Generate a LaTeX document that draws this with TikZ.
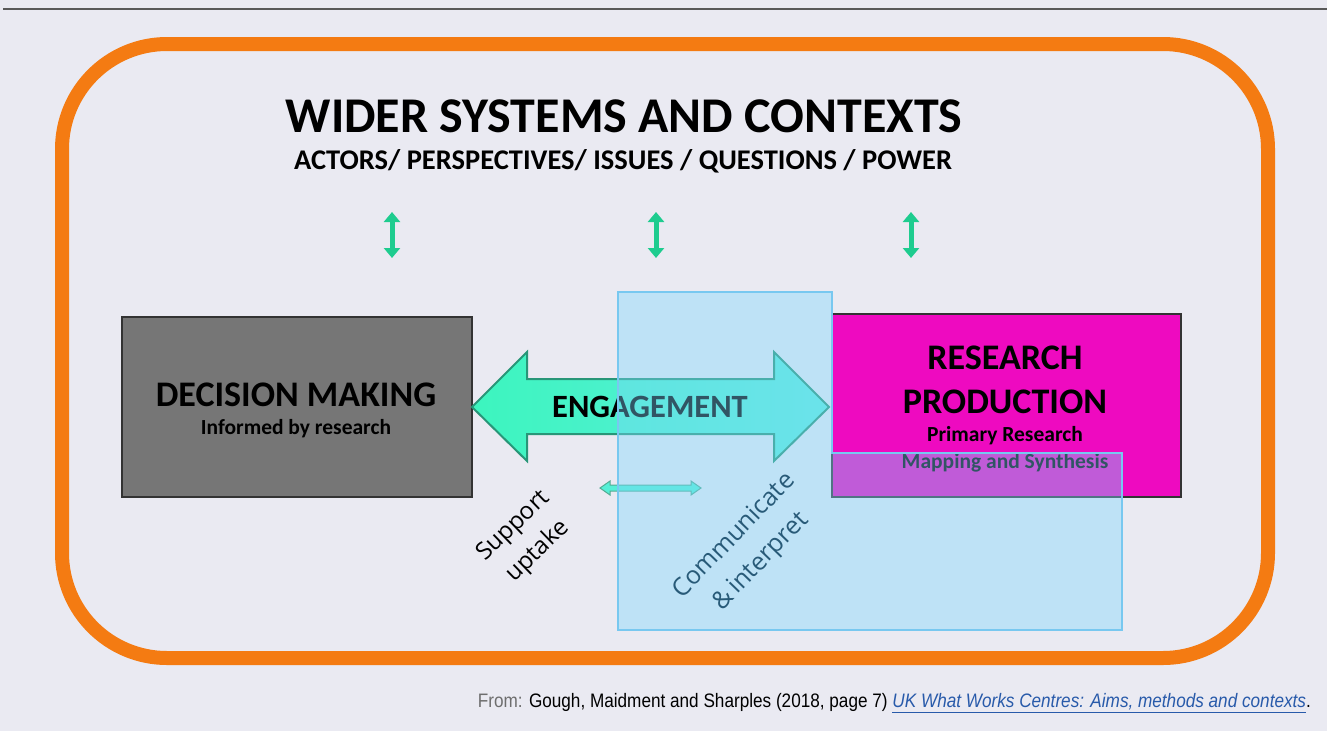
\documentclass[tikz,border=0pt]{standalone}
\usepackage{fontspec}
\setmainfont{Carlito}
\newfontfamily\footfont{Liberation Sans}
\newfontfamily\osfont{Open Sans}
\usetikzlibrary{arrows.meta}
\definecolor{bg}{RGB}{234,234,242}
\definecolor{orng}{RGB}{244,123,18}
\definecolor{vgreen}{RGB}{30,204,143}
\definecolor{dmgrey}{RGB}{118,118,118}
\definecolor{magn}{RGB}{238,10,192}
\definecolor{engL}{RGB}{60,245,190}
\definecolor{engR}{RGB}{96,236,224}
\definecolor{engB}{RGB}{40,150,120}
\definecolor{ovfill}{RGB}{124,214,252}
\definecolor{ovline}{RGB}{120,200,240}
\definecolor{commtxt}{RGB}{40,90,120}
\definecolor{linkblue}{RGB}{40,90,170}
\definecolor{fromgrey}{RGB}{110,110,110}
\tikzset{
  vdarrow/.style={vgreen, line width=5pt, {Triangle[width=16pt,length=10pt]}-{Triangle[width=16pt,length=10pt]}},
  box/.style={draw=black!80, line width=1.5pt, anchor=north west, inner sep=0pt},
  lbl/.style={font=\bfseries, align=center, inner sep=0pt},
}
\begin{document}
\begin{tikzpicture}[x=1pt,y=-1pt]
\useasboundingbox (0,0) rectangle (1327,731);
\fill[bg] (0,0) rectangle (1327,731);
\draw[black!65, line width=1.5pt] (3,9) -- (1327,9);
% orange frame
\draw[orng, line width=14pt, rounded corners=105pt] (62,44) rectangle (1268,658);
% titles
\node[lbl, font=\bfseries\fontsize{50}{56}\selectfont] (title) at (624,116) {WIDER SYSTEMS AND CONTEXTS};
\node[lbl, font=\bfseries\fontsize{28.5}{32}\selectfont] (sub) at (623,161) {ACTORS/ PERSPECTIVES/ ISSUES / QUESTIONS / POWER};
% vertical arrows
\coordinate (a1t) at (392,212); \coordinate (a1b) at (392,258);
\coordinate (a2t) at (656,212); \coordinate (a2b) at (656,258);
\coordinate (a3t) at (911,212); \coordinate (a3b) at (911,258);
\draw[vdarrow] (a1t) -- (a1b);
\draw[vdarrow] (a2t) -- (a2b);
\draw[vdarrow] (a3t) -- (a3b);
% decision making box
\node[box, fill=dmgrey, minimum width=350pt, minimum height=180pt] (dm) at (121,316) {};
\node[lbl, font=\bfseries\fontsize{36}{40}\selectfont] (dmt) at (296,395) {DECISION MAKING};
\node[lbl, font=\bfseries\fontsize{21.5}{24}\selectfont] (dms) at (296,429) {Informed by research};
% research production box
\node[box, fill=magn, minimum width=349pt, minimum height=183pt] (rp) at (831,313) {};
\node[lbl, font=\bfseries\fontsize{36}{40}\selectfont] (rpt1) at (1005,358) {RESEARCH};
\node[lbl, font=\bfseries\fontsize{36}{40}\selectfont] (rpt2) at (1005,402) {PRODUCTION};
\node[lbl, font=\bfseries\fontsize{21.5}{24}\selectfont] (rps1) at (1005,436) {Primary Research};
\node[lbl, font=\bfseries\fontsize{21.5}{24}\selectfont] (rps2) at (1005,463) {Mapping and Synthesis};
% engagement arrow
\shade[left color=engL, right color=engR, draw=engB, line width=2pt, line join=miter]
  (472,407) -- (527,352) -- (527,379) -- (774,379) -- (774,352) -- (829,407)
  -- (774,461) -- (774,434) -- (527,434) -- (527,461) -- cycle;
\node[lbl, font=\bfseries\fontsize{32.5}{36}\selectfont] (eng) at (650,407) {ENGAGEMENT};
% small horizontal arrow
\filldraw[fill=engR!70!engL, draw=engB!80, line width=1pt]
  (600,488) -- (610,481) -- (610,485) -- (691,485) -- (691,481) -- (701,488)
  -- (691,495) -- (691,491) -- (610,491) -- (610,495) -- cycle;
% blue overlay
\fill[ovfill, fill opacity=0.4]
  (618,292) -- (832,292) -- (832,453) -- (1122,453) -- (1122,630) -- (618,630) -- cycle;
\draw[ovline, line width=2pt]
  (618,292) -- (832,292) -- (832,453) -- (1122,453) -- (1122,630) -- (618,630) -- cycle;
% rotated labels
\node[align=center, rotate=44, font=\osfont\fontsize{24}{35}\selectfont, inner sep=0pt] (sup) at (526,539) {Support\\uptake};
\node[align=center, rotate=46, font=\osfont\fontsize{25}{37}\selectfont, text=commtxt, inner sep=0pt] (com) at (748,549) {Communicate\\\&\,interpret};
% footer
\node[anchor=east, inner sep=0pt] (foot) at (1311,703) {\scalebox{0.88}[1]{\footfont\fontsize{19.5}{22}\selectfont
  \textcolor{fromgrey}{From:} Gough, Maidment and Sharples (2018, page 7) \textcolor{linkblue}{\itshape\underline{UK What Works Centres: Aims, methods and contexts}}.}};
\end{tikzpicture}
\end{document}
